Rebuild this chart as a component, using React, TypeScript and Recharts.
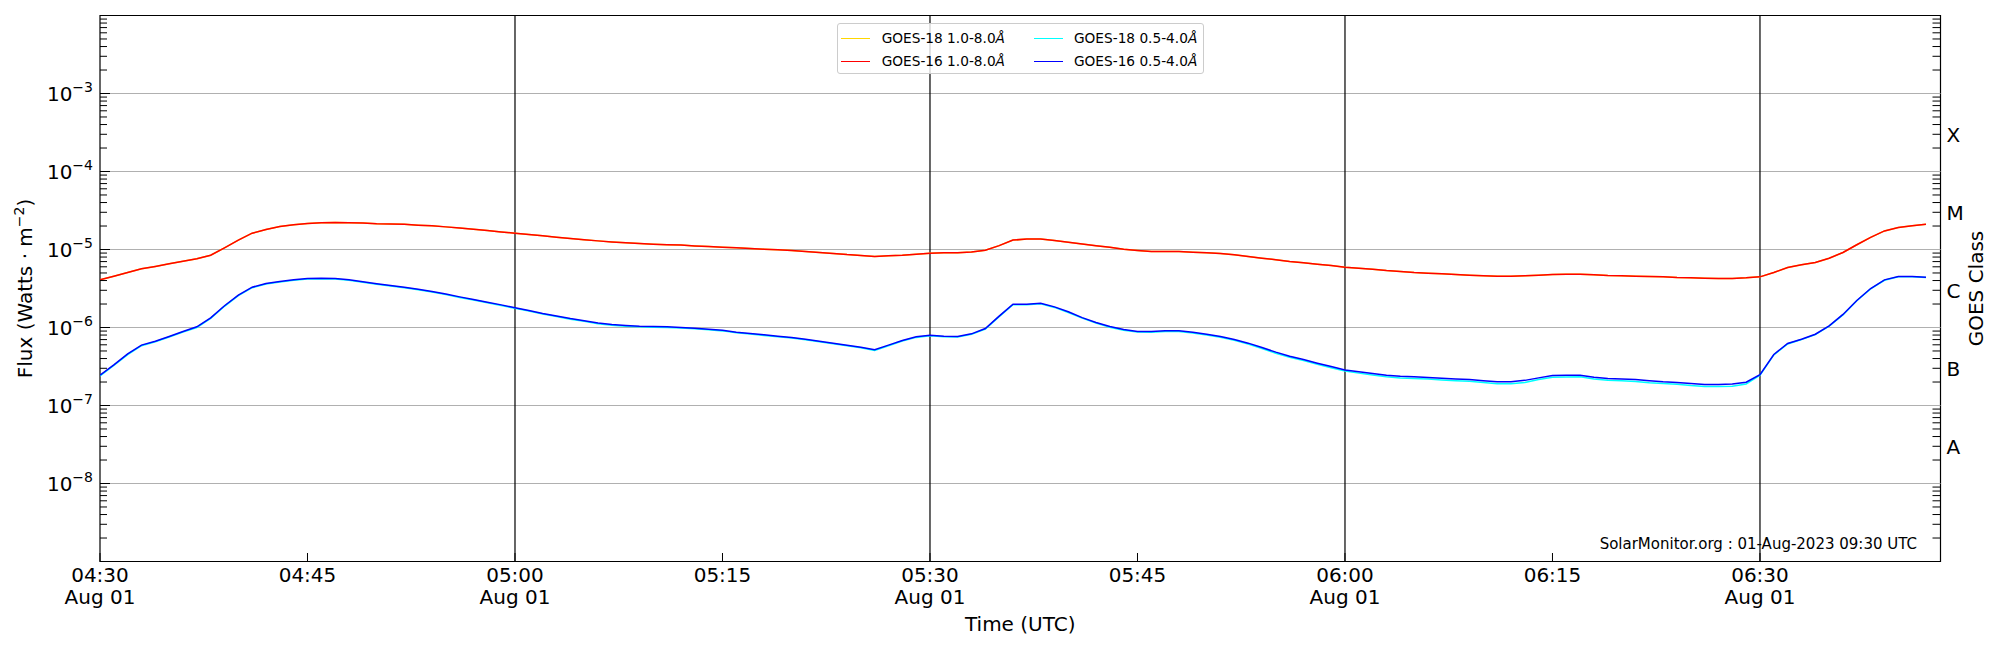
import React from "react";
import { LineChart, Line, XAxis, YAxis, ReferenceLine, ReferenceArea, Legend, Label } from "recharts";

// minutes after 04:30 UTC, one-minute cadence, 04:30 .. 06:42
const START_MINUTE = 0;
const N_POINTS = 133;
const MINUTES = Array.from({ length: N_POINTS }, (_, i) => START_MINUTE + i);
const X_END = 133.05;

// GOES-16 1.0-8.0 Å
const G16_LONG = [
  4.08e-6, 4.55e-6, 5.07e-6, 5.65e-6, 6.07e-6, 6.55e-6, 7.05e-6, 7.59e-6, 8.45e-6, 1.05e-5,
  1.32e-5, 1.62e-5, 1.80e-5, 1.97e-5, 2.07e-5, 2.15e-5, 2.20e-5, 2.22e-5, 2.21e-5, 2.18e-5,
  2.14e-5, 2.12e-5, 2.10e-5, 2.05e-5, 2.01e-5, 1.95e-5, 1.88e-5, 1.82e-5, 1.75e-5, 1.68e-5,
  1.62e-5, 1.56e-5, 1.50e-5, 1.44e-5, 1.38e-5, 1.33e-5, 1.29e-5, 1.25e-5, 1.22e-5, 1.19e-5,
  1.17e-5, 1.15e-5, 1.14e-5, 1.11e-5, 1.09e-5, 1.07e-5, 1.05e-5, 1.03e-5, 1.01e-5, 9.9e-6,
  9.7e-6, 9.4e-6, 9.15e-6, 8.9e-6, 8.6e-6, 8.4e-6, 8.13e-6, 8.3e-6, 8.45e-6, 8.7e-6,
  8.98e-6, 9.07e-6, 9.07e-6, 9.3e-6, 9.8e-6, 1.12e-5, 1.32e-5, 1.36e-5, 1.36e-5, 1.30e-5,
  1.24e-5, 1.18e-5, 1.12e-5, 1.07e-5, 1.01e-5, 9.7e-6, 9.4e-6, 9.4e-6, 9.4e-6, 9.25e-6,
  9.07e-6, 8.9e-6, 8.55e-6, 8.13e-6, 7.74e-6, 7.38e-6, 7.02e-6, 6.75e-6, 6.49e-6, 6.24e-6,
  5.94e-6, 5.77e-6, 5.6e-6, 5.38e-6, 5.22e-6, 5.07e-6, 4.97e-6, 4.88e-6, 4.79e-6, 4.69e-6,
  4.62e-6, 4.55e-6, 4.55e-6, 4.60e-6, 4.69e-6, 4.79e-6, 4.83e-6, 4.83e-6, 4.74e-6, 4.64e-6,
  4.60e-6, 4.55e-6, 4.50e-6, 4.46e-6, 4.37e-6, 4.33e-6, 4.29e-6, 4.25e-6, 4.25e-6, 4.33e-6,
  4.46e-6, 5.07e-6, 5.88e-6, 6.36e-6, 6.82e-6, 7.74e-6, 9.15e-6, 1.15e-5, 1.43e-5, 1.73e-5,
  1.91e-5, 2.01e-5, 2.11e-5,
];

// GOES-18 1.0-8.0 Å (sits right under the GOES-16 curve)
const G18_LONG = [
  4.08e-6, 4.55e-6, 5.07e-6, 5.65e-6, 6.07e-6, 6.55e-6, 7.05e-6, 7.59e-6, 8.45e-6, 1.05e-5,
  1.32e-5, 1.62e-5, 1.80e-5, 1.97e-5, 2.07e-5, 2.15e-5, 2.20e-5, 2.22e-5, 2.21e-5, 2.18e-5,
  2.14e-5, 2.12e-5, 2.10e-5, 2.05e-5, 2.01e-5, 1.95e-5, 1.88e-5, 1.82e-5, 1.75e-5, 1.68e-5,
  1.62e-5, 1.56e-5, 1.50e-5, 1.44e-5, 1.38e-5, 1.33e-5, 1.29e-5, 1.25e-5, 1.22e-5, 1.19e-5,
  1.17e-5, 1.15e-5, 1.14e-5, 1.11e-5, 1.09e-5, 1.07e-5, 1.05e-5, 1.03e-5, 1.01e-5, 9.9e-6,
  9.7e-6, 9.4e-6, 9.15e-6, 8.9e-6, 8.6e-6, 8.4e-6, 8.13e-6, 8.3e-6, 8.45e-6, 8.7e-6,
  8.98e-6, 9.07e-6, 9.07e-6, 9.3e-6, 9.8e-6, 1.12e-5, 1.32e-5, 1.36e-5, 1.36e-5, 1.30e-5,
  1.24e-5, 1.18e-5, 1.12e-5, 1.07e-5, 1.01e-5, 9.7e-6, 9.4e-6, 9.4e-6, 9.4e-6, 9.25e-6,
  9.07e-6, 8.9e-6, 8.55e-6, 8.13e-6, 7.74e-6, 7.38e-6, 7.02e-6, 6.75e-6, 6.49e-6, 6.24e-6,
  5.94e-6, 5.77e-6, 5.6e-6, 5.38e-6, 5.22e-6, 5.07e-6, 4.97e-6, 4.88e-6, 4.79e-6, 4.69e-6,
  4.62e-6, 4.55e-6, 4.55e-6, 4.60e-6, 4.69e-6, 4.79e-6, 4.83e-6, 4.83e-6, 4.74e-6, 4.64e-6,
  4.60e-6, 4.55e-6, 4.50e-6, 4.46e-6, 4.37e-6, 4.33e-6, 4.29e-6, 4.25e-6, 4.25e-6, 4.33e-6,
  4.46e-6, 5.07e-6, 5.88e-6, 6.36e-6, 6.82e-6, 7.74e-6, 9.15e-6, 1.15e-5, 1.43e-5, 1.73e-5,
  1.91e-5, 2.01e-5, 2.11e-5,
];

// GOES-16 0.5-4.0 Å
const G16_SHORT = [
  2.45e-7, 3.32e-7, 4.59e-7, 5.94e-7, 6.68e-7, 7.67e-7, 8.89e-7, 1.02e-6, 1.33e-6, 1.90e-6,
  2.60e-6, 3.29e-6, 3.67e-6, 3.89e-6, 4.08e-6, 4.25e-6, 4.29e-6, 4.25e-6, 4.08e-6, 3.85e-6,
  3.63e-6, 3.45e-6, 3.29e-6, 3.10e-6, 2.90e-6, 2.68e-6, 2.47e-6, 2.28e-6, 2.11e-6, 1.95e-6,
  1.79e-6, 1.65e-6, 1.51e-6, 1.40e-6, 1.30e-6, 1.22e-6, 1.14e-6, 1.09e-6, 1.06e-6, 1.04e-6,
  1.03e-6, 1.02e-6, 1.00e-6, 9.8e-7, 9.5e-7, 9.2e-7, 8.7e-7, 8.4e-7, 8.05e-7, 7.74e-7,
  7.44e-7, 7.08e-7, 6.68e-7, 6.30e-7, 5.94e-7, 5.60e-7, 5.18e-7, 5.94e-7, 6.81e-7, 7.59e-7,
  7.97e-7, 7.74e-7, 7.67e-7, 8.29e-7, 9.7e-7, 1.40e-6, 1.99e-6, 1.99e-6, 2.05e-6, 1.84e-6,
  1.59e-6, 1.34e-6, 1.16e-6, 1.03e-6, 9.4e-7, 8.89e-7, 8.89e-7, 9.06e-7, 9.06e-7, 8.7e-7,
  8.2e-7, 7.67e-7, 7.01e-7, 6.30e-7, 5.54e-7, 4.83e-7, 4.29e-7, 3.89e-7, 3.49e-7, 3.16e-7,
  2.86e-7, 2.70e-7, 2.57e-7, 2.45e-7, 2.37e-7, 2.33e-7, 2.29e-7, 2.24e-7, 2.19e-7, 2.15e-7,
  2.07e-7, 2.01e-7, 2.01e-7, 2.10e-7, 2.26e-7, 2.43e-7, 2.45e-7, 2.45e-7, 2.31e-7, 2.22e-7,
  2.18e-7, 2.15e-7, 2.07e-7, 2.01e-7, 1.97e-7, 1.91e-7, 1.86e-7, 1.86e-7, 1.88e-7, 1.99e-7,
  2.49e-7, 4.51e-7, 6.24e-7, 7.08e-7, 8.2e-7, 1.05e-6, 1.47e-6, 2.22e-6, 3.16e-6, 4.08e-6,
  4.51e-6, 4.51e-6, 4.42e-6,
];

// GOES-18 0.5-4.0 Å
const G18_SHORT = [
  2.40e-7, 3.26e-7, 4.50e-7, 5.85e-7, 6.58e-7, 7.55e-7, 8.75e-7, 1.00e-6, 1.31e-6, 1.87e-6,
  2.56e-6, 3.24e-6, 3.62e-6, 3.83e-6, 4.02e-6, 4.19e-6, 4.23e-6, 4.19e-6, 4.02e-6, 3.79e-6,
  3.58e-6, 3.40e-6, 3.24e-6, 3.05e-6, 2.86e-6, 2.64e-6, 2.43e-6, 2.25e-6, 2.08e-6, 1.92e-6,
  1.76e-6, 1.63e-6, 1.49e-6, 1.38e-6, 1.28e-6, 1.20e-6, 1.12e-6, 1.07e-6, 1.04e-6, 1.02e-6,
  1.01e-6, 1.00e-6, 9.85e-7, 9.65e-7, 9.35e-7, 9.05e-7, 8.55e-7, 8.27e-7, 7.92e-7, 7.62e-7,
  7.32e-7, 6.97e-7, 6.57e-7, 6.20e-7, 5.84e-7, 5.50e-7, 5.08e-7, 5.83e-7, 6.70e-7, 7.47e-7,
  7.84e-7, 7.62e-7, 7.55e-7, 8.16e-7, 9.55e-7, 1.38e-6, 1.96e-6, 1.96e-6, 2.02e-6, 1.81e-6,
  1.56e-6, 1.32e-6, 1.14e-6, 1.01e-6, 9.25e-7, 8.74e-7, 8.72e-7, 8.90e-7, 8.88e-7, 8.52e-7,
  8.02e-7, 7.49e-7, 6.84e-7, 6.13e-7, 5.38e-7, 4.68e-7, 4.16e-7, 3.76e-7, 3.37e-7, 3.05e-7,
  2.76e-7, 2.60e-7, 2.46e-7, 2.34e-7, 2.26e-7, 2.22e-7, 2.18e-7, 2.13e-7, 2.08e-7, 2.04e-7,
  1.97e-7, 1.90e-7, 1.90e-7, 1.97e-7, 2.15e-7, 2.30e-7, 2.32e-7, 2.33e-7, 2.19e-7, 2.11e-7,
  2.07e-7, 2.03e-7, 1.96e-7, 1.91e-7, 1.87e-7, 1.80e-7, 1.75e-7, 1.75e-7, 1.77e-7, 1.89e-7,
  2.44e-7, 4.45e-7, 6.15e-7, 7.00e-7, 8.10e-7, 1.04e-6, 1.45e-6, 2.20e-6, 3.12e-6, 4.03e-6,
  4.46e-6, 4.46e-6, 4.38e-6,
];

const SERIES = [
  { key: "g18l", name: "GOES-18 1.0-8.0Å", color: "#ffd700", values: G18_LONG },
  { key: "g16l", name: "GOES-16 1.0-8.0Å", color: "#ff0000", values: G16_LONG },
  { key: "g18s", name: "GOES-18 0.5-4.0Å", color: "#00ffff", values: G18_SHORT },
  { key: "g16s", name: "GOES-16 0.5-4.0Å", color: "#0000ff", values: G16_SHORT },
];

// x ticks
const X_TICKS = [0, 15, 30, 45, 60, 75, 90, 105, 120];
const X_TICK_TIMES = ["04:30", "04:45", "05:00", "05:15", "05:30", "05:45", "06:00", "06:15", "06:30"];
const X_TICK_DATES = ["Aug 01", "", "Aug 01", "", "Aug 01", "", "Aug 01", "", "Aug 01"];
const HOUR_LINES = [30, 60, 90, 120];

// y axis (log)
const Y_DOMAIN = [1e-9, 1e-2];
const Y_MAJOR_EXPS = [-8, -7, -6, -5, -4, -3];
const Y_MINOR_EXPS = [-9, -8, -7, -6, -5, -4, -3];
const Y_MINOR_MULTS = [2, 3, 4, 5, 6, 7, 8, 9];
const CLASS_LABELS = ["A", "B", "C", "M", "X"];
const CLASS_EXPS = [-8, -7, -6, -5, -4];

const WATERMARK = "SolarMonitor.org : 01-Aug-2023 09:30 UTC";

// layout
const W = 2000;
const H = 650;
const PLOT_LEFT = 100;
const PLOT_RIGHT = 1940.5;
const PLOT_TOP = 15.5;
const PLOT_BOTTOM = 561.5;
const FONT = "DejaVu Sans";

const data = MINUTES.map((t, i) => {
  const row: Record<string, number> = { t };
  SERIES.forEach((s) => (row[s.key] = s.values[i]));
  return row;
});

const MINOR_TICKS = Y_MINOR_EXPS.flatMap((e) => Y_MINOR_MULTS.map((m) => m * 10 ** e));
const MAJOR_TICKS = Y_MAJOR_EXPS.map((e) => 10 ** e);
const LEFT_TICKS = [...MAJOR_TICKS, ...MINOR_TICKS].sort((a, b) => a - b);

function splitTick(v: number) {
  const e = Math.floor(Math.log10(v) + 1e-9);
  const m = Math.round(v / 10 ** e);
  return { e, m };
}

function LeftTick(props: any) {
  const { y, payload } = props;
  const { e, m } = splitTick(payload.value);
  const major = m === 1;
  return (
    <g>
      <line x1={PLOT_LEFT} x2={PLOT_LEFT + (major ? 10 : 7)} y1={y} y2={y} stroke="#000" strokeWidth={1} />
      {major && (
        <text x={93} y={y + 7.3} textAnchor="end" fontSize={20} fontFamily={FONT} fill="#000">
          10
          <tspan dy={-8.5} fontSize={14}>
            {"\u2212" + -e}
          </tspan>
        </text>
      )}
    </g>
  );
}

function RightTick(props: any) {
  const { y, payload } = props;
  const { e, m } = splitTick(payload.value);
  const ci = m === 3 ? CLASS_EXPS.indexOf(e) : -1;
  return (
    <g>
      <line x1={PLOT_RIGHT - 8} x2={PLOT_RIGHT} y1={y} y2={y} stroke="#000" strokeWidth={1} />
      {ci >= 0 && (
        <text x={PLOT_RIGHT + 6} y={y + 7.3} fontSize={20} fontFamily={FONT} fill="#000">
          {CLASS_LABELS[ci]}
        </text>
      )}
    </g>
  );
}

function TimeTick(props: any) {
  const { x, payload } = props;
  const i = X_TICKS.indexOf(payload.value);
  return (
    <g>
      <line x1={x} x2={x} y1={PLOT_BOTTOM} y2={PLOT_BOTTOM - 8.5} stroke="#000" strokeWidth={1} />
      <text x={x} y={581.7} textAnchor="middle" fontSize={20} fontFamily={FONT} fill="#000">
        {X_TICK_TIMES[i]}
      </text>
      {X_TICK_DATES[i] && (
        <text x={x} y={604.3} textAnchor="middle" fontSize={20} fontFamily={FONT} fill="#000">
          {X_TICK_DATES[i]}
        </text>
      )}
    </g>
  );
}

// legend filled column by column, like matplotlib's ncol=2
function GoesLegend(props: any) {
  const payload = props.payload || [];
  const items = SERIES.map((s) => ({ name: s.name, color: s.color, shown: payload.some((p: any) => p.value === s.name) || !payload.length }));
  return (
    <div
      style={{
        position: "relative",
        boxSizing: "border-box",
        width: 367.3,
        height: 51.3,
        border: "1px solid #cccccc",
        borderRadius: 3,
        background: "rgba(255,255,255,0.8)",
        fontFamily: FONT,
        fontSize: 13.7,
        color: "#000",
      }}
    >
      {items.map((it, i) => {
        const col = Math.floor(i / 2);
        const row = i % 2;
        const cy = row === 0 ? 14 : 37;
        const lineX = col === 0 ? 3.3 : 196.3;
        const textX = col === 0 ? 44 : 236.3;
        return (
          <React.Fragment key={it.name}>
            <div style={{ position: "absolute", left: lineX, top: cy, width: 29, height: 1, background: it.color }} />
            <div style={{ position: "absolute", left: textX, top: cy - 8.5, height: 18, lineHeight: "18px", whiteSpace: "nowrap" }}>
              {it.name.slice(0, -1)}
              <i>{it.name.slice(-1)}</i>
            </div>
          </React.Fragment>
        );
      })}
    </div>
  );
}

export default function App() {
  return (
    <div style={{ position: "absolute", left: 0, top: 0, width: W, height: H, background: "#fff" }}>
      <LineChart width={W} height={H} data={data} margin={{ top: PLOT_TOP, right: 0, bottom: 0, left: 0 }}>
        <XAxis
          dataKey="t"
          type="number"
          domain={[0, X_END]}
          ticks={X_TICKS}
          interval={0}
          allowDataOverflow
          axisLine={false}
          tickLine={false}
          tick={TimeTick}
          height={H - PLOT_BOTTOM}
        >
          <Label
            content={() => (
              <text x={(PLOT_LEFT + PLOT_RIGHT) / 2} y={631} textAnchor="middle" fontSize={20} fontFamily={FONT} fill="#000">
                Time (UTC)
              </text>
            )}
          />
          <Label
            content={() => (
              <text x={1917} y={549} textAnchor="end" fontSize={15} fontFamily={FONT} fill="#000">
                {WATERMARK}
              </text>
            )}
          />
        </XAxis>
        <YAxis
          yAxisId="left"
          type="number"
          scale="log"
          domain={Y_DOMAIN}
          allowDataOverflow
          ticks={LEFT_TICKS}
          interval={0}
          axisLine={false}
          tickLine={false}
          tick={LeftTick}
          width={PLOT_LEFT}
        >
          <Label
            content={() => (
              <text
                x={32.3}
                y={288.5}
                transform={`rotate(-90 32.3 288.5)`}
                textAnchor="middle"
                fontSize={20}
                fontFamily={FONT}
                fill="#000"
              >
                Flux (Watts · m
                <tspan dy={-8} fontSize={14}>
                  {"\u22122"}
                </tspan>
                <tspan dy={8}>)</tspan>
              </text>
            )}
          />
        </YAxis>
        <YAxis
          yAxisId="right"
          orientation="right"
          type="number"
          scale="log"
          domain={Y_DOMAIN}
          allowDataOverflow
          ticks={MINOR_TICKS}
          interval={0}
          axisLine={false}
          tickLine={false}
          tick={RightTick}
          width={W - PLOT_RIGHT}
        >
          <Label
            content={() => (
              <text
                x={1982.5}
                y={288.5}
                transform={`rotate(-90 1982.5 288.5)`}
                textAnchor="middle"
                fontSize={20}
                fontFamily={FONT}
                fill="#000"
              >
                GOES Class
              </text>
            )}
          />
        </YAxis>

        {MAJOR_TICKS.map((v) => (
          <ReferenceLine key={"h" + v} yAxisId="left" y={v} stroke="#b0b0b0" strokeWidth={1} />
        ))}
        {HOUR_LINES.map((t) => (
          <ReferenceLine key={"v" + t} yAxisId="left" x={t} stroke="#000" strokeWidth={1.2} />
        ))}
        <ReferenceArea
          yAxisId="left"
          x1={0}
          x2={X_END}
          y1={Y_DOMAIN[0]}
          y2={Y_DOMAIN[1]}
          fill="none"
          fillOpacity={0}
          stroke="#000"
          strokeWidth={1.2}
        />

        {SERIES.map((s) => (
          <Line
            key={s.key}
            yAxisId="left"
            type="linear"
            dataKey={s.key}
            name={s.name}
            stroke={s.color}
            strokeWidth={1.5}
            dot={false}
            isAnimationActive={false}
          />
        ))}

        <Legend
          layout="horizontal"
          verticalAlign="middle"
          content={GoesLegend}
          wrapperStyle={{ position: "absolute", left: 836.7, top: 22.7, width: 367.3, height: 51.3 }}
        />
      </LineChart>
    </div>
  );
}
